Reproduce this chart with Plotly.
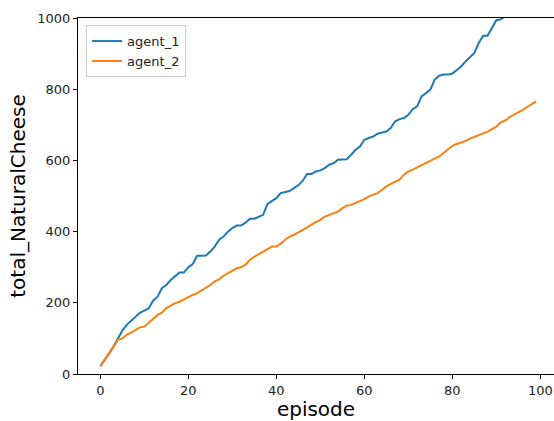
import plotly.graph_objects as go

episodes = list(range(100))
agent_1 = [22, 39, 58, 77, 98, 122, 138, 150, 161, 172,
           178, 185, 206, 217, 241, 250, 264, 274, 285, 285,
           300, 309, 332, 332, 333, 344, 358, 377, 386, 400,
           410, 417, 417, 425, 436, 436, 442, 447, 478, 487,
           494, 508, 511, 514, 522, 530, 543, 562, 562, 569,
           572, 578, 588, 592, 602, 602, 603, 616, 630, 639,
           658, 663, 667, 675, 679, 681, 691, 710, 716, 719,
           728, 744, 752, 780, 789, 799, 827, 838, 841, 841,
           844, 853, 864, 878, 890, 902, 930, 950, 950, 972,
           994, 996, 1005, 1018, 1030, 1045, 1052, 1068, 1080, 1095]
agent_2 = [22, 39, 58, 77, 96, 100, 110, 116, 124, 131,
           133, 144, 157, 166, 172, 185, 192, 199, 203, 210,
           217, 222, 227, 234, 241, 250, 260, 266, 276, 283,
           291, 297, 300, 307, 321, 330, 337, 344, 352, 358,
           358, 366, 377, 386, 391, 397, 405, 412, 420, 427,
           433, 442, 447, 452, 456, 466, 473, 475, 480, 485,
           491, 499, 503, 508, 517, 527, 534, 541, 546, 560,
           569, 574, 580, 586, 592, 599, 604, 611, 621, 630,
           641, 646, 650, 655, 661, 666, 669, 674, 681, 688,
           695, 707, 712, 722, 728, 735, 742, 750, 758, 766]
series_names = ["agent_1", "agent_2"]
series_colors = ["#1f77b4", "#ff7f0e"]
x_ticks = [0, 20, 40, 60, 80, 100]
y_ticks = [0, 200, 400, 600, 800, 1000]

FONT = "DejaVu Sans"

fig = go.Figure()
for name, vals, col in zip(series_names, [agent_1, agent_2], series_colors):
    fig.add_trace(go.Scatter(x=episodes, y=vals, mode="lines", name=name,
                             line=dict(color=col, width=2)))

fig.update_layout(
    width=554, height=421,
    margin=dict(l=78, r=0, t=18, b=47, autoexpand=False),
    paper_bgcolor="white", plot_bgcolor="white",
    font=dict(family=FONT, size=13, color="black"),
    showlegend=True,
    legend=dict(x=0.017, y=0.98, xanchor="left", yanchor="top",
                bordercolor="#cccccc", borderwidth=1, bgcolor="rgba(255,255,255,0.8)",
                font=dict(family=FONT, size=13, color="#222222"),
                itemwidth=30, tracegroupgap=0),
    xaxis=dict(range=[-5.07, 103.1], tickvals=x_ticks, showgrid=False, zeroline=False,
               showline=True, linecolor="black", linewidth=1, mirror=True,
               ticks="outside", ticklen=4, tickwidth=1, tickcolor="black",
               tickfont=dict(size=13, color="#222222"),
               title=dict(text="episode", font=dict(size=20, color="black"), standoff=3)),
    yaxis=dict(range=[0, 1000], tickvals=y_ticks, showgrid=False, zeroline=False,
               showline=True, linecolor="black", linewidth=1,
               ticks="outside", ticklen=4, tickwidth=1, tickcolor="black",
               tickfont=dict(size=13, color="#222222"),
               title=dict(text="total_NaturalCheese", font=dict(size=20, color="black"), standoff=6)),
)

fig.write_html("out.html", config={"displayModeBar": False},
               post_script="document.body.style.margin='0';document.body.style.padding='0';")
